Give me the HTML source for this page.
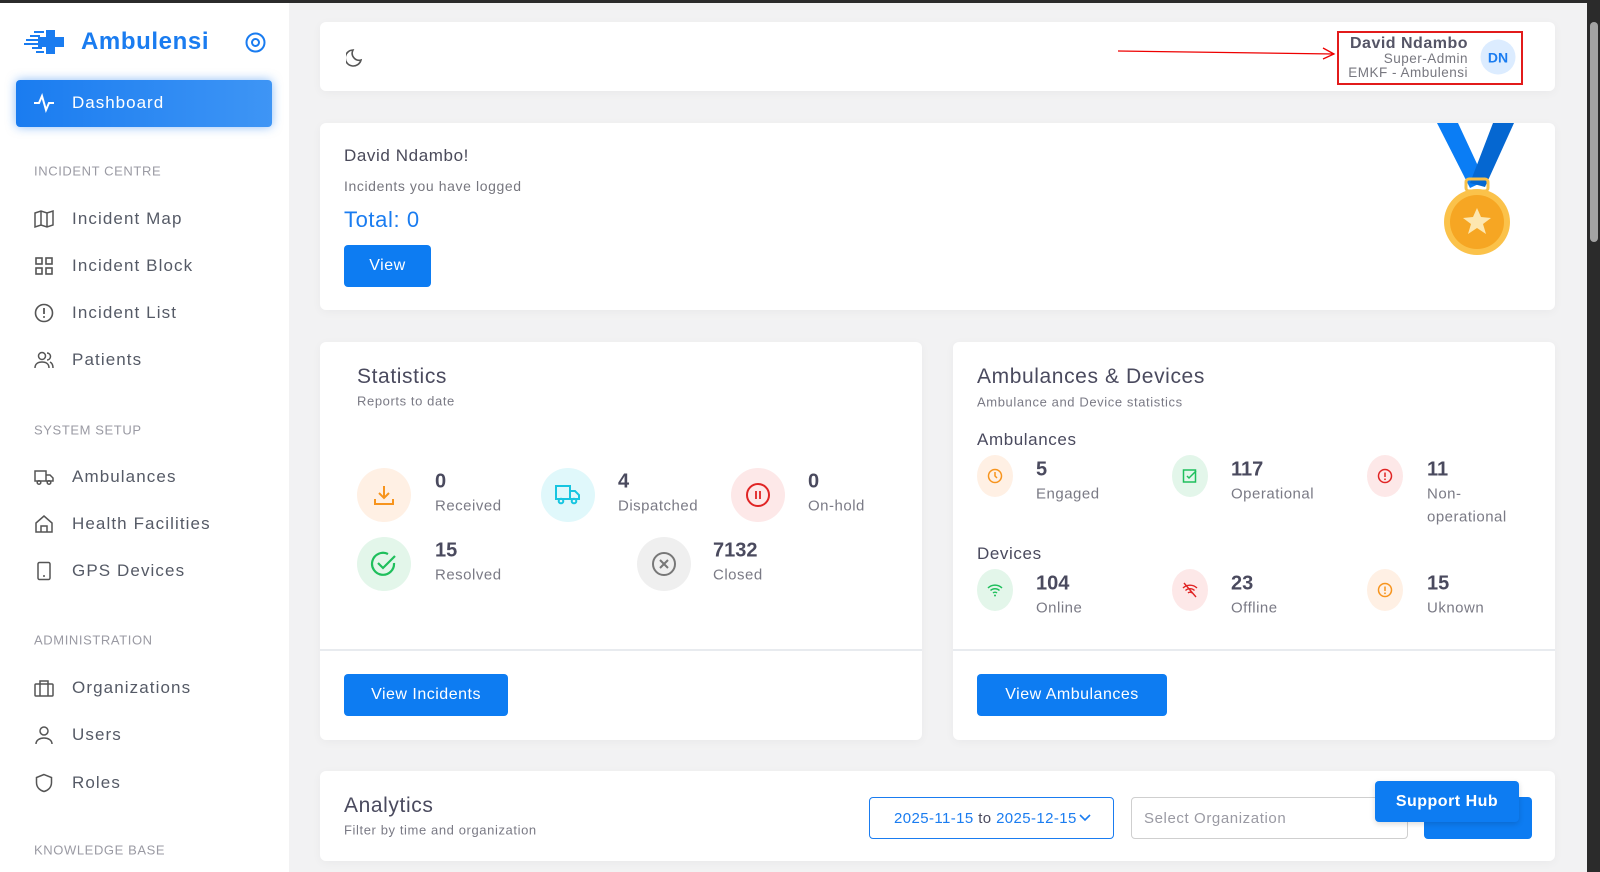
<!DOCTYPE html>
<html><head><meta charset="utf-8"><style>
*{box-sizing:border-box;margin:0;padding:0}
body{width:1600px;height:872px;overflow:hidden;background:#f2f2f3;font-family:"Liberation Sans",sans-serif;color:#4b4b5a;position:relative}
.a{position:absolute}
.topline{left:0;top:0;width:1600px;height:3px;background:#2b2b2b}
.side{left:0;top:3px;width:289px;height:869px;background:#fff}
.card{background:#fff;border-radius:6px;box-shadow:0 2px 10px rgba(0,0,0,.04)}
.sec{left:34px;font-size:13px;color:#9a9aa3;letter-spacing:.6px}
.item{left:72px;font-size:17px;color:#555a66;transform:translateY(-50%);letter-spacing:1.1px}
.ic{left:34px;width:20px;height:20px;transform:translateY(-50%)}
.btn{background:#0d7cf2;color:#fff;border-radius:4px;font-size:16px;display:flex;align-items:center;justify-content:center;letter-spacing:.5px}
.circ{border-radius:50%;transform:translate(-50%,-50%);display:flex;align-items:center;justify-content:center}
.num{font-size:20px;font-weight:bold;color:#4a4a5e;transform:translateY(-50%)}
.lbl{font-size:15px;color:#7a7a85;transform:translateY(-50%);letter-spacing:.5px}
.mid{transform:translateY(-50%)}
.t{letter-spacing:.6px}
</style></head><body>
<div class="a topline"></div>
<div class="a side"></div>
<svg class="a" style="left:24px;top:28px" width="42" height="28" viewBox="0 0 42 28"><rect x="22" y="2" width="9" height="24" fill="#1a7cf0"/><rect x="14" y="9" width="26" height="10" fill="#1a7cf0"/><g stroke="#1a7cf0" stroke-width="2"><line x1="2" y1="12" x2="14" y2="12"/><line x1="6" y1="8" x2="16" y2="8"/><line x1="0" y1="16" x2="14" y2="16"/><line x1="8" y1="20" x2="18" y2="20"/><line x1="10" y1="4" x2="20" y2="4"/><line x1="12" y1="24" x2="20" y2="24"/></g></svg>
<div class="a mid" style="left:81px;top:42px;font-size:24px;font-weight:bold;color:#1a7cf0;letter-spacing:.6px">Ambulensi</div>
<svg class="a" style="left:245px;top:32px" width="21" height="21"><circle cx="10.5" cy="10.5" r="9" fill="none" stroke="#1a7cf0" stroke-width="2"/><circle cx="10.5" cy="10.5" r="3.5" fill="none" stroke="#1a7cf0" stroke-width="2"/></svg>
<div class="a" style="left:16px;top:80px;width:256px;height:47px;border-radius:4px;background:linear-gradient(90deg,#1a7cf0,#3e95f5);box-shadow:0 0 10px rgba(26,124,240,.5)"></div>
<svg class="a" style="left:33px;top:93px" width="22" height="20"><polyline points="1,10 6,10 9,3 13,17 16,10 21,10" fill="none" stroke="#fff" stroke-width="2"/></svg>
<div class="a mid" style="left:72px;top:103px;font-size:17px;color:#fff;letter-spacing:1px">Dashboard</div>

<div class="a sec mid" style="top:171px">INCIDENT CENTRE</div>
<svg class="a ic" style="top:219px" viewBox="0 0 20 20"><path d="M1 4 L7 2 L13 4 L19 2 V16 L13 18 L7 16 L1 18Z M7 2V16 M13 4V18" fill="none" stroke="#555" stroke-width="1.5"/></svg><div class="a item" style="top:219px">Incident Map</div>
<svg class="a ic" style="top:266px" viewBox="0 0 20 20"><g fill="none" stroke="#555" stroke-width="1.6"><rect x="2" y="2" width="6" height="6"/><rect x="12" y="2" width="6" height="6"/><rect x="2" y="12" width="6" height="6"/><rect x="12" y="12" width="6" height="6"/></g></svg><div class="a item" style="top:266px">Incident Block</div>
<svg class="a ic" style="top:313px" viewBox="0 0 20 20"><circle cx="10" cy="10" r="8.5" fill="none" stroke="#555" stroke-width="1.6"/><line x1="10" y1="5" x2="10" y2="11" stroke="#555" stroke-width="1.8"/><circle cx="10" cy="14" r="1" fill="#555"/></svg><div class="a item" style="top:313px">Incident List</div>
<svg class="a ic" style="top:360px" viewBox="0 0 20 20"><g fill="none" stroke="#555" stroke-width="1.5"><circle cx="8" cy="6" r="3.5"/><path d="M1 18c0-4 3-6 7-6s7 2 7 6M13 3a3.5 3.5 0 010 7M16 12c2 1 3 3 3 6"/></g></svg><div class="a item" style="top:360px">Patients</div>

<div class="a sec mid" style="top:430px">SYSTEM SETUP</div>
<svg class="a ic" style="top:477px" viewBox="0 0 20 20"><g fill="none" stroke="#555" stroke-width="1.5"><rect x="1" y="4" width="11" height="10"/><path d="M12 8h4l3 3v3h-7"/><circle cx="5" cy="15.5" r="1.8"/><circle cx="15" cy="15.5" r="1.8"/></g></svg><div class="a item" style="top:477px">Ambulances</div>
<svg class="a ic" style="top:524px" viewBox="0 0 20 20"><g fill="none" stroke="#555" stroke-width="1.5"><path d="M2 9L10 2l8 7v9H2z"/><path d="M7 18v-6h6v6"/></g></svg><div class="a item" style="top:524px">Health Facilities</div>
<svg class="a ic" style="top:571px" viewBox="0 0 20 20"><rect x="4" y="1.5" width="12" height="17" rx="1.5" fill="none" stroke="#555" stroke-width="1.5"/><circle cx="10" cy="15" r="1" fill="#555"/></svg><div class="a item" style="top:571px">GPS Devices</div>

<div class="a sec mid" style="top:640px">ADMINISTRATION</div>
<svg class="a ic" style="top:688px" viewBox="0 0 20 20"><g fill="none" stroke="#555" stroke-width="1.5"><rect x="1" y="6" width="18" height="12" rx="1"/><path d="M6 6V3h8v3M6 6v12M14 6v12"/></g></svg><div class="a item" style="top:688px">Organizations</div>
<svg class="a ic" style="top:735px" viewBox="0 0 20 20"><g fill="none" stroke="#555" stroke-width="1.5"><circle cx="10" cy="6" r="4"/><path d="M2 19c0-4 4-6 8-6s8 2 8 6"/></g></svg><div class="a item" style="top:735px">Users</div>
<svg class="a ic" style="top:783px" viewBox="0 0 20 20"><path d="M10 1.5L2.5 4.5v5c0 5 3.5 8 7.5 9 4-1 7.5-4 7.5-9v-5z" fill="none" stroke="#555" stroke-width="1.5"/></svg><div class="a item" style="top:783px">Roles</div>
<div class="a sec mid" style="top:850px">KNOWLEDGE BASE</div>

<div class="a card" style="left:320px;top:22px;width:1235px;height:69px"></div>
<svg class="a" style="left:346px;top:47px" width="20" height="20"><path d="M15 13A7 7 0 0 1 7 3a8 8 0 1 0 8 10z" fill="none" stroke="#555" stroke-width="1.6"/></svg>
<svg class="a" style="left:1115px;top:45px" width="225" height="16"><line x1="3" y1="6" x2="219" y2="9" stroke="#e00" stroke-width="1.3"/><polyline points="208,3 219,9 208,14" fill="none" stroke="#e00" stroke-width="1.3"/></svg>
<div class="a" style="left:1337px;top:31px;width:186px;height:54px;border:2px solid #e21b1b"></div>
<div class="a" style="right:132px;top:35px;text-align:right;line-height:14px;letter-spacing:.5px">
<div style="font-size:16px;font-weight:bold;color:#555566;line-height:17px">David Ndambo</div>
<div style="font-size:13.5px;color:#77777f">Super-Admin</div>
<div style="font-size:13.5px;color:#77777f">EMKF - Ambulensi</div></div>
<div class="a circ" style="left:1498px;top:57px;width:35px;height:35px;background:#dcecff;color:#1a7cf0;font-size:14px;font-weight:bold;transform:translate(-50%,-50%)">DN</div>

<div class="a card" style="left:320px;top:123px;width:1235px;height:187px"></div>
<div class="a mid t" style="left:344px;top:156px;font-size:17px;color:#4a4a5a">David Ndambo!</div>
<div class="a mid t" style="left:344px;top:186px;font-size:14px;color:#77777f">Incidents you have logged</div>
<div class="a mid t" style="left:344px;top:220px;font-size:22px;color:#1a7cf0">Total: 0</div>
<div class="a btn" style="left:344px;top:245px;width:87px;height:42px">View</div>
<svg class="a" style="left:1430px;top:123px" width="95" height="140"><polygon points="7,0 28,0 55,58 40,65" fill="#0a7df5"/><polygon points="84,0 63,0 40,60 55,64" fill="#0567d1"/><rect x="36" y="56" width="22" height="12" rx="3" fill="none" stroke="#f7c04a" stroke-width="3"/><circle cx="47" cy="99" r="33" fill="#fbc24a"/><circle cx="47" cy="99" r="27" fill="#f6a623"/><polygon points="47,85 51,94 61,95 53,101 56,111 47,105 38,111 41,101 33,95 43,94" fill="#fde7b0"/></svg>

<div class="a card" style="left:320px;top:342px;width:602px;height:398px"></div>
<div class="a mid t" style="left:357px;top:377px;font-size:21px;color:#4a4a5e">Statistics</div>
<div class="a mid t" style="left:357px;top:401px;font-size:13px;color:#7a7a85">Reports to date</div>
<div class="a circ" style="left:384px;top:495px;width:54px;height:54px;background:#fff0e4"><svg width="24" height="24"><path d="M12 3v12M7 10l5 5 5-5M3 16v5h18v-5" fill="none" stroke="#f7941d" stroke-width="2"/></svg></div>
<div class="a num" style="left:435px;top:482px">0</div><div class="a lbl" style="left:435px;top:506px">Received</div>
<div class="a circ" style="left:568px;top:495px;width:54px;height:54px;background:#e0f8fb"><svg width="28" height="24"><g fill="none" stroke="#17c5e0" stroke-width="2"><rect x="2" y="3" width="14" height="13"/><path d="M16 8h5l4 4v4h-9"/><circle cx="7" cy="18" r="2.3"/><circle cx="20" cy="18" r="2.3"/></g></svg></div>
<div class="a num" style="left:618px;top:482px">4</div><div class="a lbl" style="left:618px;top:506px">Dispatched</div>
<div class="a circ" style="left:758px;top:495px;width:54px;height:54px;background:#fde8e8"><svg width="26" height="26"><circle cx="13" cy="13" r="11" fill="none" stroke="#e02424" stroke-width="2"/><path d="M11 9v8M15 9v8" stroke="#e02424" stroke-width="1.8"/></svg></div>
<div class="a num" style="left:808px;top:482px">0</div><div class="a lbl" style="left:808px;top:506px">On-hold</div>
<div class="a circ" style="left:384px;top:564px;width:54px;height:54px;background:#e3f6ea"><svg width="28" height="28"><path d="M24 13A11 11 0 1 1 18 4" fill="none" stroke="#1fbf5c" stroke-width="2.2"/><path d="M8 13l5 5 12-12" fill="none" stroke="#1fbf5c" stroke-width="2.2"/></svg></div>
<div class="a num" style="left:435px;top:551px">15</div><div class="a lbl" style="left:435px;top:575px">Resolved</div>
<div class="a circ" style="left:664px;top:564px;width:54px;height:54px;background:#efefef"><svg width="26" height="26"><circle cx="13" cy="13" r="11" fill="none" stroke="#777" stroke-width="2"/><path d="M9 9l8 8M17 9l-8 8" stroke="#777" stroke-width="2"/></svg></div>
<div class="a num" style="left:713px;top:551px">7132</div><div class="a lbl" style="left:713px;top:575px">Closed</div>
<div class="a" style="left:320px;top:649px;width:602px;height:2px;background:#e8ebef"></div>
<div class="a btn" style="left:344px;top:674px;width:164px;height:42px">View Incidents</div>

<div class="a card" style="left:953px;top:342px;width:602px;height:398px"></div>
<div class="a mid t" style="left:977px;top:377px;font-size:21px;color:#4a4a5e">Ambulances &amp; Devices</div>
<div class="a mid t" style="left:977px;top:402px;font-size:13px;color:#7a7a85">Ambulance and Device statistics</div>
<div class="a mid t" style="left:977px;top:440px;font-size:17px;color:#4a4a5e">Ambulances</div>
<div class="a circ" style="left:995px;top:476px;width:36px;height:42px;background:#fff0e4"><svg width="16" height="16"><circle cx="8" cy="8" r="6.5" fill="none" stroke="#f7941d" stroke-width="1.5"/><path d="M8 4v4l2 2" fill="none" stroke="#f7941d" stroke-width="1.5"/></svg></div>
<div class="a num" style="left:1036px;top:470px">5</div><div class="a lbl" style="left:1036px;top:494px">Engaged</div>
<div class="a circ" style="left:1190px;top:476px;width:36px;height:42px;background:#e3f6ea"><svg width="16" height="16"><rect x="1.5" y="2" width="12" height="12" fill="none" stroke="#1fbf5c" stroke-width="1.5"/><path d="M5 8l2 2 7-7" fill="none" stroke="#1fbf5c" stroke-width="1.5"/></svg></div>
<div class="a num" style="left:1231px;top:470px">117</div><div class="a lbl" style="left:1231px;top:494px">Operational</div>
<div class="a circ" style="left:1385px;top:476px;width:36px;height:42px;background:#fde8e8"><svg width="16" height="16"><circle cx="8" cy="8" r="6.5" fill="none" stroke="#e02424" stroke-width="1.5"/><path d="M8 4.5v4.5" stroke="#e02424" stroke-width="1.5"/><circle cx="8" cy="11.3" r=".9" fill="#e02424"/></svg></div>
<div class="a num" style="left:1427px;top:470px">11</div><div class="a lbl" style="left:1427px;top:494px">Non-</div><div class="a lbl" style="left:1427px;top:517px">operational</div>
<div class="a mid t" style="left:977px;top:554px;font-size:17px;color:#4a4a5e">Devices</div>
<div class="a circ" style="left:995px;top:590px;width:36px;height:42px;background:#e3f6ea"><svg width="16" height="14"><g fill="none" stroke="#1fbf5c" stroke-width="1.5"><path d="M1 5a10 10 0 0 1 14 0M3.5 7.5a6.5 6.5 0 0 1 9 0M6 10a3 3 0 0 1 4 0"/></g><circle cx="8" cy="12.5" r="1" fill="#1fbf5c"/></svg></div>
<div class="a num" style="left:1036px;top:584px">104</div><div class="a lbl" style="left:1036px;top:608px">Online</div>
<div class="a circ" style="left:1190px;top:590px;width:36px;height:42px;background:#fde8e8"><svg width="16" height="16"><g fill="none" stroke="#e02424" stroke-width="1.4"><path d="M1 6a10 10 0 0 1 14 0M3.5 8.5a6.5 6.5 0 0 1 9 0M6 11a3 3 0 0 1 4 0M2 1l12 14"/></g></svg></div>
<div class="a num" style="left:1231px;top:584px">23</div><div class="a lbl" style="left:1231px;top:608px">Offline</div>
<div class="a circ" style="left:1385px;top:590px;width:36px;height:42px;background:#fff0e4"><svg width="16" height="16"><circle cx="8" cy="8" r="6.5" fill="none" stroke="#f7941d" stroke-width="1.5"/><path d="M8 4.5v4.5" stroke="#f7941d" stroke-width="1.5"/><circle cx="8" cy="11.3" r=".9" fill="#f7941d"/></svg></div>
<div class="a num" style="left:1427px;top:584px">15</div><div class="a lbl" style="left:1427px;top:608px">Uknown</div>
<div class="a" style="left:953px;top:649px;width:602px;height:2px;background:#e8ebef"></div>
<div class="a btn" style="left:977px;top:674px;width:190px;height:42px">View Ambulances</div>

<div class="a card" style="left:320px;top:771px;width:1235px;height:90px"></div>
<div class="a mid t" style="left:344px;top:806px;font-size:21px;color:#4a4a5e">Analytics</div>
<div class="a mid t" style="left:344px;top:830px;font-size:13px;color:#7a7a85">Filter by time and organization</div>
<div class="a" style="left:869px;top:797px;width:245px;height:42px;border:1px solid #1a7cf0;border-radius:4px;display:flex;align-items:center;padding-left:24px;font-size:15px;color:#1a7cf0;letter-spacing:.4px">2025-11-15&nbsp;<span style="color:#4a4a5e">to</span>&nbsp;2025-12-15<svg style="position:absolute;right:22px" width="12" height="8"><polyline points="1,1 6,6 11,1" fill="none" stroke="#1a7cf0" stroke-width="1.6"/></svg></div>
<div class="a" style="left:1131px;top:797px;width:277px;height:42px;border:1px solid #cfcfcf;border-radius:4px;display:flex;align-items:center;padding-left:12px;font-size:15px;color:#9a9aa3;letter-spacing:.6px">Select Organization</div>
<div class="a btn" style="left:1424px;top:797px;width:108px;height:42px;color:#8ec0fa">Print</div>
<div class="a btn" style="left:1375px;top:781px;width:144px;height:41px;font-weight:bold;font-size:16px;box-shadow:0 2px 6px rgba(0,0,0,.15)">Support Hub</div>

<div class="a" style="left:1587px;top:3px;width:13px;height:869px;background:#2b2b2b"></div>
<div class="a" style="left:1590px;top:22px;width:8px;height:220px;background:#a3a3a3;border-radius:4px"></div>
</body></html>
